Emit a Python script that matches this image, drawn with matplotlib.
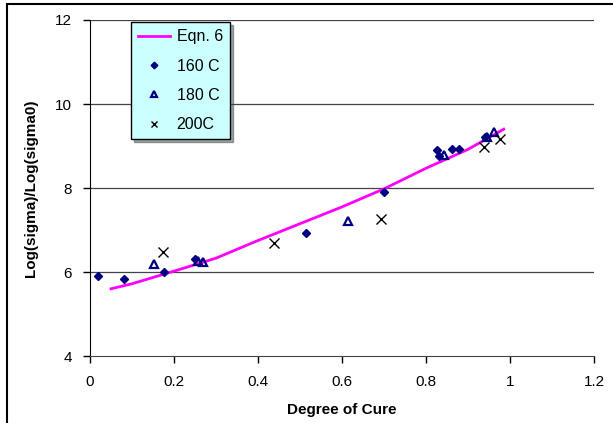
import numpy as np
import matplotlib
matplotlib.use("Agg")
from matplotlib import pyplot as plt
from matplotlib.patches import Rectangle

plt.rcParams['font.family'] = ['Liberation Sans', 'DejaVu Sans']

# Eqn. 6 model curve
eqn_x = [0.05, 0.1, 0.2, 0.3, 0.4, 0.5, 0.6, 0.7, 0.8, 0.9, 0.985]
eqn_y = [5.6, 5.72, 6.02, 6.33, 6.75, 7.15, 7.55, 7.98, 8.47, 8.92, 9.4]

# measured data
x160 = [0.02, 0.08, 0.175, 0.25, 0.515, 0.70, 0.825, 0.83, 0.862, 0.878, 0.94]
y160 = [5.9, 5.83, 6.0, 6.3, 6.93, 7.9, 8.9, 8.75, 8.93, 8.93, 9.22]
x180 = [0.152, 0.258, 0.268, 0.614, 0.842, 0.945, 0.962]
y180 = [6.19, 6.27, 6.24, 7.22, 8.78, 9.22, 9.33]
x200 = [0.174, 0.438, 0.693, 0.938, 0.976]
y200 = [6.47, 6.69, 7.27, 8.98, 9.16]

xticks = [0, 0.2, 0.4, 0.6, 0.8, 1, 1.2]
yticks = [4, 6, 8, 10, 12]

fig = plt.figure(figsize=(6.13, 4.23), dpi=100)
ax = fig.add_axes([90/613, 1-356/423, 504/613, 336/423])

for yv in yticks[1:]:
    ax.axhline(yv, color='#444444', lw=0.9, zorder=0)

ax.plot(eqn_x, eqn_y, color='#FF00FF', lw=2, label='Eqn. 6', zorder=2)
ax.plot(x160, y160, 'D', ms=4.5, color='#000080', ls='none', label='160 C', zorder=3)
ax.plot(x180, y180, '^', ms=6, mfc='none', mec='#000080', mew=1.6, ls='none', label='180 C', zorder=3)
ax.plot(x200, y200, 'x', ms=6.5, color='black', mew=1, ls='none', label='200C', zorder=3)

ax.set_xlim(0, 1.2)
ax.set_ylim(4, 12)
ax.set_xticks(xticks)
ax.set_xticklabels(['0', '0.2', '0.4', '0.6', '0.8', '1', '1.2'])
ax.set_yticks(yticks)
ax.tick_params(direction='out', length=5, width=1, labelsize=11)
ax.tick_params(axis='x', pad=9)
ax.tick_params(axis='y', pad=8)
for s in ['top', 'right']:
    ax.spines[s].set_visible(False)
ax.spines['left'].set_color('black')
ax.spines['bottom'].set_color('#444444')

ax.set_xlabel('Degree of Cure', fontsize=11, fontweight='bold', labelpad=10)
ax.set_ylabel('Log(sigma)/Log(sigma0)', fontsize=11, fontweight='bold', labelpad=12)

leg = ax.legend(loc='upper left', bbox_to_anchor=(41/504, 1-2/336), borderaxespad=0,
                fontsize=11.5, fancybox=False, shadow=True, framealpha=1, edgecolor='black',
                handlelength=2.0, borderpad=0.45, labelspacing=0.9, handletextpad=0.4,
                markerscale=0.75)
leg.get_frame().set_facecolor('#CCFFFF')
leg.get_frame().set_linewidth(1)

fig.patches.append(Rectangle((7/613, -0.1), 1.2, 1.1 - 4/423, transform=fig.transFigure,
                             fill=False, edgecolor='black', lw=1.5))

fig.savefig('out.png', dpi=100)
